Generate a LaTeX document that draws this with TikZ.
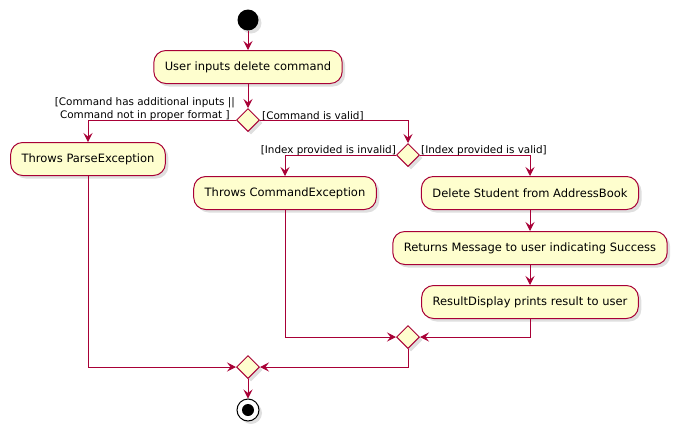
\documentclass[tikz,border=0pt]{standalone}
\usepackage{fontspec}
\setmainfont{DejaVu Sans}
\usepackage{xcolor}
\usepackage{tikz}
\usetikzlibrary{shapes,arrows.meta,positioning,calc,shadows}

\definecolor{umlred}{HTML}{A80036}
\definecolor{umlfill}{HTML}{FEFECE}

\begin{document}
\begin{tikzpicture}[x=1pt,y=-1pt,
    act/.style={draw=umlred, fill=umlfill, line width=1pt, rounded corners=12pt,
        minimum height=33pt, inner xsep=11pt, font=\fontsize{11.5}{14}\selectfont,
        drop shadow={shadow xshift=3pt, shadow yshift=-3pt, opacity=0.25}},
    choice/.style={draw=umlred, fill=umlfill, line width=1pt, diamond, aspect=1,
        inner sep=0pt, minimum width=23pt, minimum height=23pt,
        drop shadow={shadow xshift=3pt, shadow yshift=-3pt, opacity=0.25}},
    flow/.style={draw=umlred, line width=1pt, -{Stealth[length=9pt, width=9pt, inset=3.5pt]}},
    guard/.style={inner sep=0pt, font=\fontsize{10.4}{13}\selectfont}]
    \useasboundingbox (0,0) rectangle (681,437);

    \node[circle, fill=black, minimum size=21pt, inner sep=0pt,
        drop shadow={shadow xshift=3pt, shadow yshift=-3pt, opacity=0.25}] (start) at (248,20) {};
    \node[act] (input) at (248,67) {User inputs delete command};
    \node[choice] (d1) at (248,120) {};
    \node[act] (parse) at (88,159) {Throws ParseException};
    \node[choice] (d2) at (408,155) {};
    \node[act] (cmdex) at (285,193) {Throws CommandException};
    \node[act] (del) at (530,193) {Delete Student from AddressBook};
    \node[act] (msg) at (530,248) {Returns Message to user indicating Success};
    \node[act] (result) at (530,302) {ResultDisplay prints result to user};
    \node[choice] (d3) at (408,337) {};
    \node[choice] (d4) at (248,367) {};
    \node[circle, draw=black, fill=white, line width=1pt, minimum size=22pt, inner sep=0pt,
        drop shadow={shadow xshift=3pt, shadow yshift=-3pt, opacity=0.25}] (stop) at (248,410) {};
    \fill (stop) circle (6pt);

    % guards
    \node[guard, anchor=south east, align=center] at (235,121)
        {[Command has additional inputs ||\\ Command not in proper format ]};
    \node[guard, anchor=south west] at (262,121) {[Command is valid]};
    \node[guard, anchor=south east] at (396,156) {[Index provided is invalid]};
    \node[guard, anchor=south west] at (421,156) {[Index provided is valid]};

    \draw[flow] (start) -- (input);
    \draw[flow] (input) -- (d1);
    \draw[flow] (d1.west) -| (parse.north);
    \draw[flow] (d1.east) -| (d2.north);
    \draw[flow] (d2.west) -| (cmdex.north);
    \draw[flow] (d2.east) -| (del.north);
    \draw[flow] (del) -- (msg);
    \draw[flow] (msg) -- (result);
    \draw[flow] (cmdex.south) |- (d3.west);
    \draw[flow] (result.south) |- (d3.east);
    \draw[flow] (parse.south) |- (d4.west);
    \draw[flow] (d3.south) |- (d4.east);
    \draw[flow] (d4) -- (stop);
\end{tikzpicture}
\end{document}
